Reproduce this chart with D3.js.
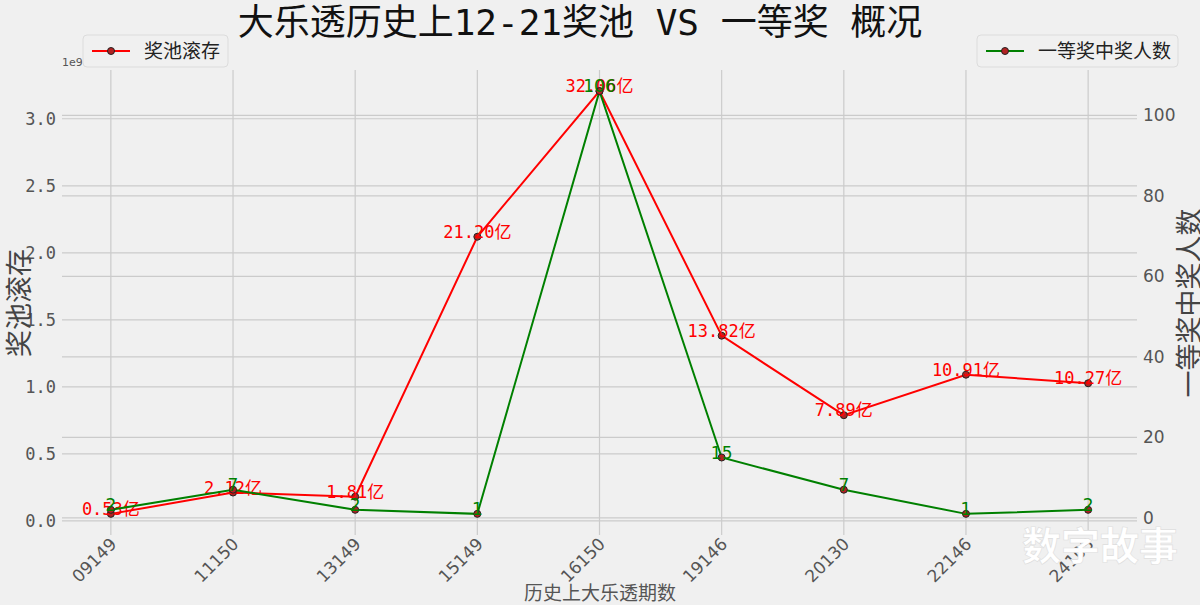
<!DOCTYPE html>
<html>
<head>
<meta charset="utf-8">
<script src="https://cdn.jsdelivr.net/npm/d3@7"></script>
<style>
  body { margin: 0; background: #f0f0f0; }
  svg { display: block; }
</style>
</head>
<body>
<div id="chart"></div>
<script>
// data
var periods = ["09149", "11150", "13149", "15149", "16150", "19146", "20130", "22146", "24103"];
var pool = [0.053e9, 0.212e9, 0.181e9, 2.120e9, 3.206e9, 1.382e9, 0.789e9, 1.091e9, 1.027e9];
var poolLabels = ["0.53亿", "2.12亿", "1.81亿", "21.20亿", "32.06亿", "13.82亿", "7.89亿", "10.91亿", "10.27亿"];
var winners = [2, 7, 2, 1, 106, 15, 7, 1, 2];
var leftTicks = [0, 0.5e9, 1.0e9, 1.5e9, 2.0e9, 2.5e9, 3.0e9];
var rightTicks = [0, 20, 40, 60, 80, 100];

var W = 1200, H = 605;
var plot = {left: 62, right: 1137, top: 70, bottom: 535};
var mono = "'DejaVu Sans Mono', 'Noto Sans CJK SC', monospace";
var cjk = "'Noto Sans CJK SC', 'DejaVu Sans', sans-serif";
var sans = "'DejaVu Sans', 'Noto Sans CJK SC', sans-serif";

var svg = d3.select("#chart").append("svg")
    .attr("width", W)
    .attr("height", H);

svg.append("rect").attr("width", W).attr("height", H).attr("fill", "#f0f0f0");

// matplotlib 5% margin: index domain [-0.4, 8.4]
var x = d3.scaleLinear().domain([-0.4, periods.length - 1 + 0.4]).range([plot.left, plot.right]);

var pmin = d3.min(pool), pmax = d3.max(pool), pm = (pmax - pmin) * 0.05;
var yL = d3.scaleLinear().domain([pmin - pm, pmax + pm]).range([plot.bottom, plot.top]);
var wmin = d3.min(winners), wmax = d3.max(winners), wm = (wmax - wmin) * 0.05;
var yR = d3.scaleLinear().domain([wmin - wm, wmax + wm]).range([plot.bottom, plot.top]);

// grid
var grid = svg.append("g").attr("stroke", "#cbcbcb").attr("stroke-width", 1.2);
periods.forEach(function(p, i) {
  grid.append("line").attr("x1", x(i)).attr("x2", x(i))
    .attr("y1", plot.top).attr("y2", plot.bottom);
});
leftTicks.forEach(function(t) {
  grid.append("line").attr("x1", plot.left).attr("x2", plot.right)
    .attr("y1", yL(t)).attr("y2", yL(t));
});
rightTicks.forEach(function(t) {
  grid.append("line").attr("x1", plot.left).attr("x2", plot.right)
    .attr("y1", yR(t)).attr("y2", yR(t));
});

// left axis
var axL = d3.axisLeft(yL).tickValues(leftTicks).tickSize(0).tickPadding(6)
    .tickFormat(function(d) { return (d / 1e9).toFixed(1); });
var gL = svg.append("g").attr("transform", "translate(" + plot.left + ",0)").call(axL);
gL.select(".domain").remove();
gL.selectAll("text").attr("font-family", mono).attr("font-size", 17).attr("fill", "#555");

svg.append("text").attr("x", 62).attr("y", 66).text("1e9")
  .attr("font-family", sans).attr("font-size", 11).attr("fill", "#555");

// right axis
var axR = d3.axisRight(yR).tickValues(rightTicks).tickSize(0).tickPadding(6);
var gR = svg.append("g").attr("transform", "translate(" + plot.right + ",0)").call(axR);
gR.select(".domain").remove();
gR.selectAll("text").attr("font-family", sans).attr("font-size", 17).attr("fill", "#555");

// x axis
var axX = d3.axisBottom(x).tickValues(d3.range(periods.length)).tickSize(0)
    .tickFormat(function(i) { return periods[i]; });
var gX = svg.append("g").attr("transform", "translate(0," + plot.bottom + ")").call(axX);
gX.select(".domain").remove();
gX.selectAll("text")
  .attr("font-family", sans).attr("font-size", 17).attr("fill", "#555")
  .attr("text-anchor", "end")
  .attr("y", 0)
  .attr("dy", "0.35em")
  .attr("transform", "translate(2,6) rotate(-45)");

// axis titles
svg.append("text").attr("x", 600).attr("y", 600).attr("text-anchor", "middle")
  .attr("font-family", cjk).attr("font-size", 19).attr("fill", "#555").text("历史上大乐透期数");
svg.append("text").attr("transform", "translate(29,303) rotate(-90)").attr("text-anchor", "middle")
  .attr("font-family", cjk).attr("font-size", 27).attr("fill", "#444").text("奖池滚存");
svg.append("text").attr("transform", "translate(1199,303) rotate(-90)").attr("text-anchor", "middle")
  .attr("font-family", cjk).attr("font-size", 27).attr("fill", "#444").text("一等奖中奖人数");

// title
svg.append("text").attr("x", 580).attr("y", 35).attr("text-anchor", "middle")
  .attr("font-family", mono).attr("font-size", 36).attr("fill", "#111")
  .text("大乐透历史上12-21奖池 VS 一等奖 概况");

// lines
var lineL = d3.line().x(function(d, i) { return x(i); }).y(function(d) { return yL(d); });
var lineR = d3.line().x(function(d, i) { return x(i); }).y(function(d) { return yR(d); });

svg.append("path").datum(pool).attr("d", lineL)
  .attr("fill", "none").attr("stroke", "red").attr("stroke-width", 2);
svg.selectAll(".mL").data(pool).enter().append("circle")
  .attr("cx", function(d, i) { return x(i); }).attr("cy", function(d) { return yL(d); })
  .attr("r", 3.5).attr("fill", "#b22222").attr("stroke", "#222").attr("stroke-width", 1);
svg.selectAll(".tL").data(pool).enter().append("text")
  .attr("x", function(d, i) { return x(i); }).attr("y", function(d) { return yL(d) + 1; })
  .attr("text-anchor", "middle").attr("font-family", mono).attr("font-size", 17).attr("fill", "red")
  .text(function(d, i) { return poolLabels[i]; });

svg.append("path").datum(winners).attr("d", lineR)
  .attr("fill", "none").attr("stroke", "green").attr("stroke-width", 2);
svg.selectAll(".mR").data(winners).enter().append("circle")
  .attr("cx", function(d, i) { return x(i); }).attr("cy", function(d) { return yR(d); })
  .attr("r", 3.5).attr("fill", "#b22222").attr("stroke", "#222").attr("stroke-width", 1);
svg.selectAll(".tR").data(winners).enter().append("text")
  .attr("x", function(d, i) { return x(i); }).attr("y", function(d) { return yR(d) + 1; })
  .attr("text-anchor", "middle").attr("font-family", sans).attr("font-size", 17).attr("fill", "green")
  .text(function(d) { return d; });

// legends
function legend(x0, y0, w, color, label) {
  var g = svg.append("g").attr("transform", "translate(" + x0 + "," + y0 + ")");
  g.append("rect").attr("width", w).attr("height", 32).attr("rx", 4)
    .attr("fill", "#f0f0f0").attr("stroke", "#dcdcdc");
  g.append("line").attr("x1", 9).attr("x2", 47).attr("y1", 16).attr("y2", 16)
    .attr("stroke", color).attr("stroke-width", 2);
  g.append("circle").attr("cx", 28).attr("cy", 16).attr("r", 3.5)
    .attr("fill", "#b22222").attr("stroke", "#222");
  g.append("text").attr("x", 61).attr("y", 16).attr("dy", "0.35em")
    .attr("font-family", cjk).attr("font-size", 19).attr("fill", "#222").text(label);
}
legend(83, 35, 145, "red", "奖池滚存");
legend(977, 35, 201, "green", "一等奖中奖人数");

// watermark
svg.append("text").attr("x", 1100).attr("y", 560).attr("text-anchor", "middle")
  .attr("font-family", cjk).attr("font-size", 39).attr("font-weight", "bold")
  .attr("fill", "#fff").attr("stroke", "#ddd").attr("stroke-width", 0.6)
  .text("数字故事");
</script>
</body>
</html>
